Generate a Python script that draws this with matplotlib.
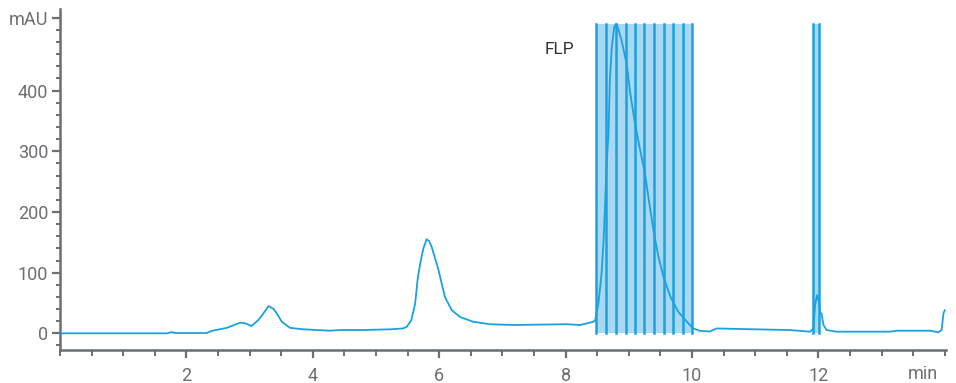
import matplotlib
matplotlib.use("Agg")
import matplotlib.pyplot as plt
from matplotlib.ticker import FixedLocator, MultipleLocator

# --- data ---
time_min = [0.0, 1.70, 1.76, 1.82, 2.32, 2.40, 2.64, 2.85, 2.93, 3.03, 3.14, 3.22, 3.30, 3.38,
            3.43, 3.51, 3.64, 3.85, 4.27, 4.43, 4.80, 5.22, 5.43, 5.49, 5.56, 5.62, 5.66, 5.70,
            5.75, 5.80, 5.84, 5.88, 5.94, 5.99, 6.09, 6.20, 6.33, 6.54, 6.80, 7.17, 8.02, 8.23,
            8.44, 8.47, 8.52, 8.57, 8.60, 8.62, 8.65, 8.68, 8.70, 8.73, 8.77, 8.80, 8.83, 8.89,
            8.97, 9.02, 9.10, 9.18, 9.26, 9.31, 9.39, 9.47, 9.55, 9.66, 9.78, 9.92, 10.02, 10.13,
            10.28, 10.39, 10.81, 11.55, 11.87, 11.92, 11.95, 11.98, 12.01, 12.03, 12.05, 12.08,
            12.13, 12.29, 13.13, 13.24, 13.77, 13.90, 13.95, 13.98, 14.0]
signal_mau = [0, 0, 2, 0.5, 0.5, 4, 9, 17.5, 16.5, 12, 22, 33, 45, 40,
              33, 19, 9, 6.6, 4.3, 5.4, 5.4, 6.6, 8, 11, 22, 49, 90, 115,
              140, 155, 152, 143, 122, 104, 60, 38, 27, 19, 15, 13.7, 15, 13.7,
              19, 22, 49, 99, 150, 198, 280, 330, 415, 470, 505, 510, 503, 481,
              442, 398, 345, 302, 261, 225, 170, 126, 93, 60, 36, 19, 8, 4,
              3, 8, 7, 5.4, 2.7, 8, 47, 63, 52, 33, 33, 14,
              5.4, 2.7, 2.7, 4.3, 4.3, 1.6, 5.4, 33, 38]

fraction_edges_1 = [8.476, 8.634, 8.793, 8.951, 9.098, 9.245, 9.399, 9.552, 9.704, 9.858, 10.0]
fraction_edges_2 = [11.91, 12.01]
fraction_top = 509
peak_label = "FLP"
peak_label_pos = (7.91, 467)

y_major = [0, 100, 200, 300, 400, 520]
y_labels = ["0", "100", "200", "300", "400", "mAU"]
x_major = [2, 4, 6, 8, 10, 12]
x_labels = ["2", "4", "6", "8", "10", "12"]
x_unit_label = "min"
x_unit_pos = 13.66

LINE = "#1ba1e0"
FILL = "#a9d9f2"
GREY = "#6b6e73"

plt.rcParams["font.family"] = ["Roboto", "DejaVu Sans"]

fig = plt.figure(figsize=(9.56, 3.83), dpi=100)
ax = fig.add_axes([60 / 956, 33 / 383, 886 / 956, (383 - 33 - 9.3) / 383])

for edges in (fraction_edges_1, fraction_edges_2):
    ax.fill_between([edges[0], edges[-1]], 0, fraction_top, color=FILL, lw=0, zorder=1)
    for e in edges:
        ax.plot([e, e], [0, fraction_top], color=LINE, lw=1.8, zorder=2)

ax.plot(time_min, signal_mau, color=LINE, lw=1.3, zorder=3)

ax.text(peak_label_pos[0], peak_label_pos[1], peak_label, ha="center", va="center",
        fontsize=12.5, color="#333333")

ax.set_xlim(0, 14.02)
ax.set_ylim(-27.5, 534)

for s in ("top", "right"):
    ax.spines[s].set_visible(False)
for s in ("left", "bottom"):
    ax.spines[s].set_color(GREY)
    ax.spines[s].set_linewidth(1.8)

ax.xaxis.set_major_locator(FixedLocator(x_major))
ax.set_xticklabels(x_labels)
ax.xaxis.set_minor_locator(MultipleLocator(0.5))
ax.yaxis.set_major_locator(FixedLocator(y_major))
ax.set_yticklabels(y_labels)
ax.yaxis.set_minor_locator(FixedLocator(list(range(-20, 521, 20))))

ax.tick_params(axis="x", which="major", length=6, width=1.6, color=GREY, labelcolor=GREY,
               labelsize=13, pad=6)
ax.tick_params(axis="x", which="minor", length=4, width=1.4, color=GREY)
ax.tick_params(axis="y", which="major", length=5.5, width=1.6, color=GREY, labelcolor=GREY,
               labelsize=13, pad=3)
ax.tick_params(axis="y", which="minor", length=3, width=1.4, color=GREY)

ax.text(x_unit_pos, -0.045, x_unit_label, transform=ax.get_xaxis_transform(),
        ha="center", va="top", fontsize=13, color=GREY)

fig.savefig("out.png", dpi=100)
